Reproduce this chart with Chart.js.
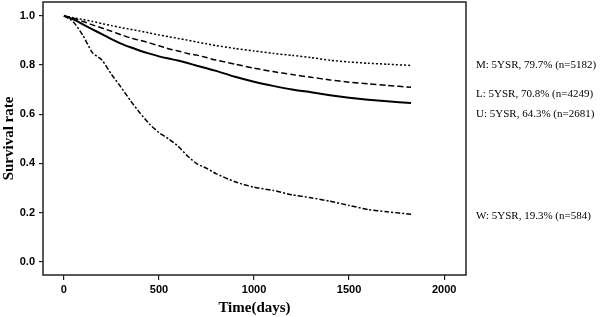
<!DOCTYPE html>
<html>
<head>
<meta charset="utf-8">
<script src="https://cdn.jsdelivr.net/npm/chart.js@4/dist/chart.umd.min.js"></script>
<style>
html,body{margin:0;padding:0;background:#fff;}
#wrap{width:600px;height:317px;position:relative;}
</style>
</head>
<body>
<div id="wrap"><canvas id="c" width="600" height="317"></canvas></div>
<script>
// ---- data ----
const days  = [0, 50, 100, 150, 200, 250, 300, 350, 400, 450, 500, 550, 600, 650, 700, 750, 800, 900, 1000, 1100, 1200, 1300, 1400, 1500, 1600, 1700, 1826];
const survM = [1, 0.992, 0.985, 0.977, 0.968, 0.96, 0.952, 0.945, 0.938, 0.93, 0.922, 0.915, 0.908, 0.901, 0.893, 0.886, 0.879, 0.867, 0.857, 0.847, 0.839, 0.830, 0.819, 0.812, 0.807, 0.803, 0.798];
const survL = [1, 0.99, 0.977, 0.963, 0.95, 0.937, 0.923, 0.91, 0.90, 0.89, 0.878, 0.866, 0.857, 0.847, 0.84, 0.83, 0.82, 0.803, 0.787, 0.773, 0.761, 0.75, 0.739, 0.73, 0.723, 0.717, 0.709];
const survU = [1, 0.985, 0.965, 0.945, 0.925, 0.905, 0.887, 0.872, 0.858, 0.846, 0.835, 0.826, 0.818, 0.808, 0.797, 0.787, 0.776, 0.752, 0.732, 0.715, 0.70, 0.689, 0.677, 0.667, 0.659, 0.652, 0.645];
const survW = [1, 0.975, 0.92, 0.85, 0.82, 0.762, 0.71, 0.655, 0.605, 0.56, 0.525, 0.50, 0.47, 0.43, 0.398, 0.38, 0.358, 0.325, 0.303, 0.29, 0.272, 0.26, 0.246, 0.229, 0.212, 0.203, 0.193];
const seriesLabels = ["M: 5YSR, 79.7% (n=5182)", "L: 5YSR, 70.8% (n=4249)", "U: 5YSR, 64.3% (n=2681)", "W: 5YSR, 19.3% (n=584)"];
const xTicks = [0, 500, 1000, 1500, 2000];
const yTicks = [0, 0.2, 0.4, 0.6, 0.8, 1.0];

// ---- presentation ----
const labelY = [65, 94, 114, 216]; // pixel rows of the annotation texts
const toPts = vals => days.map((d, i) => ({x: d, y: vals[i]}));
const mk = (vals, dash, w) => ({
  data: toPts(vals), borderColor: '#000', borderWidth: w, borderDash: dash,
  pointRadius: 0, fill: false, tension: 0.2, borderCapStyle: 'butt'
});

const boxPlugin = {
  id: 'box',
  afterDraw(chart) {
    const {ctx, chartArea: a} = chart;
    ctx.save();
    ctx.strokeStyle = '#222';
    ctx.lineWidth = 1.5;
    ctx.strokeRect(a.left, a.top, a.right - a.left, a.bottom - a.top);
    ctx.fillStyle = '#000';
    ctx.font = '11px "Liberation Serif", serif';
    ctx.textBaseline = 'middle';
    ctx.textAlign = 'left';
    seriesLabels.forEach((t, i) => ctx.fillText(t, 476, labelY[i]));
    ctx.restore();
  }
};

const tickFont = {family: '"Liberation Sans", sans-serif', size: 11, weight: 'bold'};
const titleFont = {family: '"Liberation Serif", serif', size: 15, weight: 'bold'};
const noPad = s => { s.paddingTop = 0; s.paddingBottom = 0; s.paddingLeft = 0; s.paddingRight = 0; };

new Chart(document.getElementById('c'), {
  type: 'line',
  data: {datasets: [mk(survM, [2, 2], 1.5), mk(survL, [6, 3], 1.5), mk(survU, [], 2), mk(survW, [5, 2, 2, 2], 1.5)]},
  options: {
    responsive: false, animation: false, devicePixelRatio: 1,
    events: [],
    layout: {padding: {top: 2, right: 134, left: 0, bottom: 0}},
    plugins: {legend: {display: false}, tooltip: {enabled: false}},
    scales: {
      x: {
        type: 'linear', min: -110, max: 2115,
        afterBuildTicks: s => { s.ticks = xTicks.map(v => ({value: v})); },
        afterFit: s => { s.height = 42; noPad(s); },
        border: {display: false},
        grid: {display: true, drawOnChartArea: false, drawTicks: true, tickLength: 5, color: '#222', lineWidth: 1.2},
        ticks: {color: '#000', font: tickFont, padding: 3, maxRotation: 0, callback: v => String(v)},
        title: {display: true, text: 'Time(days)', color: '#000', font: titleFont, padding: {top: 0, bottom: 0}}
      },
      y: {
        type: 'linear', min: -0.054, max: 1.056,
        afterBuildTicks: s => { s.ticks = yTicks.map(v => ({value: v})); },
        afterFit: s => { s.width = 43; noPad(s); },
        border: {display: false},
        grid: {display: true, drawOnChartArea: false, drawTicks: true, tickLength: 4, color: '#222', lineWidth: 1.2},
        ticks: {color: '#000', font: tickFont, padding: 4, callback: v => Number(v).toFixed(1)},
        title: {display: true, text: 'Survival rate', color: '#000', font: titleFont, padding: {top: 0, bottom: 0}}
      }
    }
  },
  plugins: [boxPlugin]
});
</script>
</body>
</html>
